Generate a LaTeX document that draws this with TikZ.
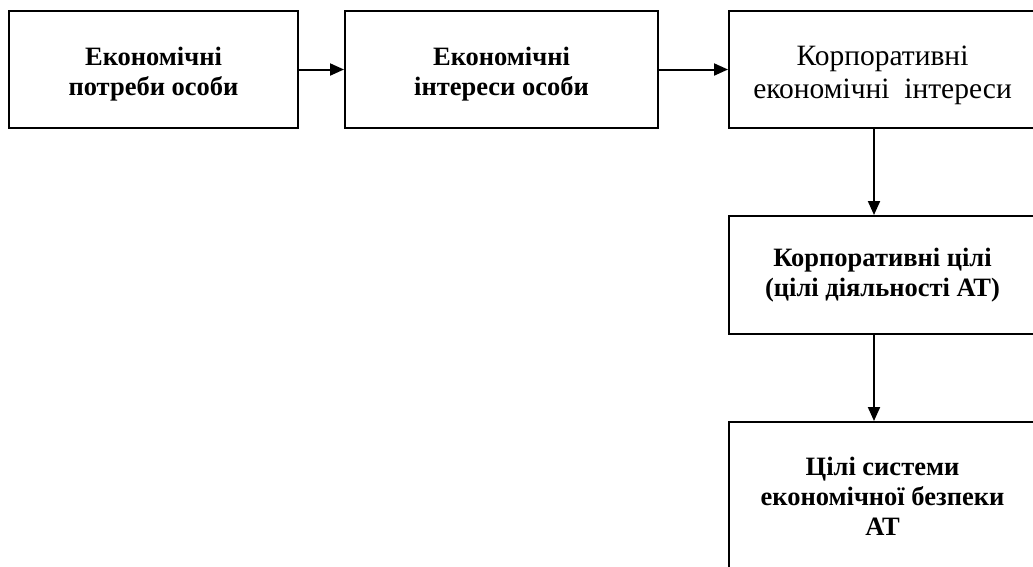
\documentclass[tikz,border=0pt]{standalone}
\usepackage{fontspec}
\setmainfont{Liberation Serif}
\usetikzlibrary{arrows.meta}
\newcommand{\lowerby}[1]{\rule{0pt}{#1}}
\begin{document}
\begin{tikzpicture}[x=1pt,y=1pt,
  box/.style={draw=black, line width=2pt, fill=white, align=center, inner sep=0pt},
  btxt/.style={font=\fontsize{26.5}{30}\selectfont\bfseries},
  rtxt/.style={font=\fontsize{29.5}{33}\selectfont},
  arr/.style={line width=2pt, -{Triangle[length=14pt,width=12pt]}}]
\useasboundingbox (0,0) rectangle (1033,-566);
\clip (0,0) rectangle (1033,-566);
\node[box, btxt, minimum width=289pt, minimum height=117pt] (b1) at (153.5,-69.5) {\lowerby{27pt}Економічні\\потреби особи};
\node[box, btxt, minimum width=313pt, minimum height=117pt] (b2) at (501.5,-69.5) {\lowerby{27pt}Економічні\\інтереси особи};
\node[box, rtxt, minimum width=307pt, minimum height=117pt] (b3) at (882.5,-69.5) {\lowerby{31pt}Корпоративні\\економічні\ \ інтереси};
\node[box, btxt, minimum width=307pt, minimum height=118pt] (b4) at (882.5,-275) {Корпоративні цілі\\(цілі діяльності АТ)};
\node[box, btxt, minimum width=307pt, minimum height=148pt] (b5) at (882.5,-496) {Цілі системи\\економічної безпеки\\АТ};
\draw[arr] (b1.east) -- (b2.west);
\draw[arr] (b2.east) -- (b3.west);
\draw[arr] ([xshift=-8.5pt]b3.south) -- ([xshift=-8.5pt]b4.north);
\draw[arr] ([xshift=-8.5pt]b4.south) -- ([xshift=-8.5pt]b5.north);
\end{tikzpicture}
\end{document}
